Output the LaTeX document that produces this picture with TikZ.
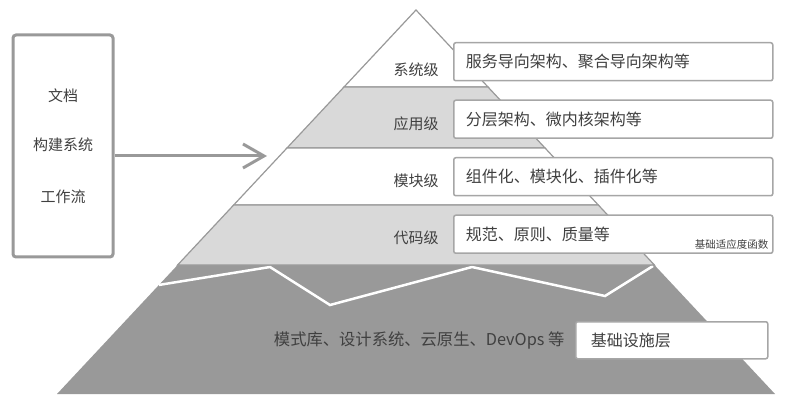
\documentclass[tikz,border=0pt]{standalone}
\usepackage{fontspec}
\newfontfamily\cjk{Noto Sans CJK SC}
\usetikzlibrary{positioning,calc,arrows.meta}
\definecolor{linegray}{HTML}{999999}
\definecolor{boxgray}{HTML}{A6A6A6}
\definecolor{bandgray}{HTML}{D9D9D9}
\definecolor{basegray}{HTML}{999999}
\definecolor{txtgray}{HTML}{404040}

\begin{document}
\begin{tikzpicture}[x=1pt,y=-1pt,font=\cjk\fontsize{15pt}{18pt}\selectfont,text=txtgray]
	% `band' is used for the pyramid layers.
	% `detail' is used for the boxes on the right.
	\tikzstyle{band} = [draw=linegray,line width=1.2pt]
	\tikzstyle{detail} = [draw=boxgray,fill=white,line width=1.5pt,rounded corners=2pt,minimum height=38pt,text width=295pt,inner xsep=12pt,align=left,anchor=north west,font=\cjk\fontsize{16pt}{19pt}\selectfont]
	\tikzstyle{level} = [inner sep=0pt]
	\tikzstyle{source} = [draw=linegray,fill=white,line width=3pt,rounded corners=3pt]
	\useasboundingbox (0,0) rectangle (787,403);
	%
	% Pyramid corners and layer edges.
	\coordinate (apex) at (416,10);
	\coordinate (foot l) at (57,394);
	\coordinate (foot r) at (775,394);
	\foreach \i/\t in {1/0.2005,2/0.3594,3/0.5078,4/0.6641}{
		\coordinate (l\i) at ($(apex)!\t!(foot l)$);
		\coordinate (r\i) at ($(apex)!\t!(foot r)$);
	}
	% Base layer with the white zigzag.
	\fill[basegray] (l4) -- (r4) -- (foot r) -- (foot l) -- cycle;
	\draw[white,line width=2.5pt,line join=miter] ($(apex)!0.716!(foot l)$) -- (270,267) -- (330,305) -- (472,267) -- (605,296) -- (653,266);
	% Upper layers.
	\draw[band,fill=white] (apex) -- (r1) -- (l1) -- cycle;
	\draw[band,fill=bandgray] (l1) -- (r1) -- (r2) -- (l2) -- cycle;
	\draw[band,fill=white] (l2) -- (r2) -- (r3) -- (l3) -- cycle;
	\draw[band,fill=bandgray] (l3) -- (r3) -- (r4) -- (l4) -- cycle;
	%
	% Layer names.
	\node[level] (sys) at (416,70) {系统级};
	\node[level] (app) at (416,124) {应用级};
	\node[level] (mod) at (416,181) {模块级};
	\node[level] (code) at (416,238) {代码级};
	% Boxes on the right.
	\node[detail] (sysbox) at (453,42) {服务导向架构、聚合导向架构等};
	\node[detail,below=18pt of sysbox] (appbox) {分层架构、微内核架构等};
	\node[detail,below=18pt of appbox] (modbox) {组件化、模块化、插件化等};
	\node[detail,below=18pt of modbox] (codebox) {规范、原则、质量等};
	\node[anchor=south east,inner sep=0pt,font=\cjk\fontsize{10.5pt}{12pt}\selectfont] (fitness) at ([shift={(-5,-4)}]codebox.south east) {基础适应度函数};
	% Infrastructure.
	\node[detail,text width=162pt,inner xsep=15pt,minimum height=37pt] (infra) at (575,321) {基础设施层};
	\node[anchor=east,font=\cjk\fontsize{16.3pt}{19pt}\selectfont] (infratext) at ([xshift=-7pt]infra.west) {模式库、设计系统、云原生、DevOps 等};
	%
	% Left box and arrow.
	\node[source,minimum width=100pt,minimum height=222pt] (src) at (63,146) {};
	\node (doc) at (63,96) {文档};
	\node (build) at (63,145) {构建系统};
	\node (flow) at (63,197) {工作流};
	\coordinate (tip) at (267,156);
	\draw[linegray,line width=3pt,-{Straight Barb[length=21pt,width=24pt]}] (src.east |- tip) -- (tip);
\end{tikzpicture}
\end{document}
